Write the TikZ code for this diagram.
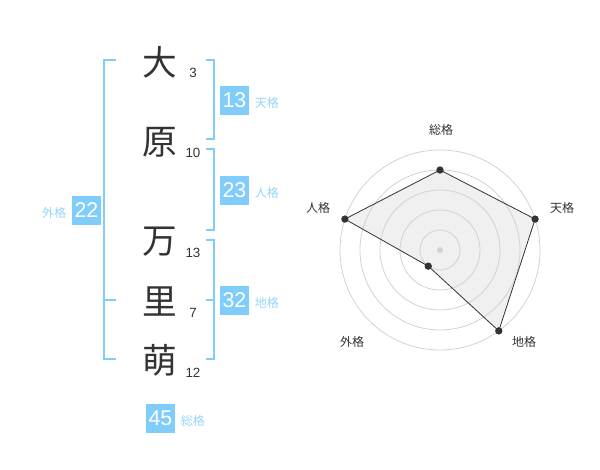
\documentclass[tikz,border=0pt]{standalone}
\usepackage{fontspec}
\setmainfont{Liberation Sans}
\newfontfamily\jpfont{Noto Sans CJK JP}
\usetikzlibrary{positioning}
\definecolor{kakublue}{RGB}{128,204,250}
\definecolor{labelblue}{RGB}{150,212,248}
\definecolor{inkgray}{RGB}{51,51,51}
\definecolor{ringgray}{RGB}{210,210,210}
\definecolor{areagray}{RGB}{240,240,240}

\begin{document}
\begin{tikzpicture}[
    x=0.75pt, y=-0.75pt,
    node distance=4pt,
    kanji/.style={font=\jpfont\fontsize{26}{26}\selectfont, text=inkgray, inner sep=0pt},
    strokes/.style={font=\fontsize{10}{10}\selectfont, text=inkgray, inner sep=0pt},
    kaku/.style={rectangle, fill=kakublue, text=white, minimum size=21.75pt, inner sep=0pt, font=\fontsize{16}{16}\selectfont},
    kakulabel/.style={font=\jpfont\fontsize{9}{9}\selectfont, text=labelblue, inner sep=0pt},
    bracket/.style={draw=kakublue, line width=1.5pt},
    ring/.style={draw=ringgray, line width=0.6pt},
    axislabel/.style={font=\jpfont\fontsize{9}{9}\selectfont, text=inkgray, inner sep=0pt},
    dot/.style={circle, fill=inkgray, inner sep=0pt, minimum size=5.5pt}
]
\useasboundingbox (0,0) rectangle (600,470);

% Name
\node[kanji] (k1) at (160,62) {大};
\node[kanji] (k2) at (160,142) {原};
\node[kanji] (k3) at (160,242) {万};
\node[kanji] (k4) at (160,302) {里};
\node[kanji] (k5) at (160,360) {萌};

% Strokes
\node[strokes] (s1) at (193,73) {3};
\node[strokes] (s2) at (193,153) {10};
\node[strokes] (s3) at (193,253) {13};
\node[strokes] (s4) at (193,313) {7};
\node[strokes] (s5) at (193,373) {12};

% Brackets
\draw[bracket] (206,60) -- (214,60) -- (214,139) -- (206,139);
\draw[bracket] (206,149) -- (214,149) -- (214,230) -- (206,230);
\draw[bracket] (206,240) -- (214,240) -- (214,359) -- (206,359);
\draw[bracket] (206,300) -- (214,300);
\draw[bracket] (116,60) -- (104,60) -- (104,359) -- (116,359);
\draw[bracket] (104,300) -- (116,300);

% Kaku boxes
\node[kaku] (ten) at (234.5,100.5) {13};
\node[kakulabel, right=of ten, yshift=-2pt] (ten_label) {天格};
\node[kaku] (jin) at (234.5,190.5) {23};
\node[kakulabel, right=of jin, yshift=-2pt] (jin_label) {人格};
\node[kaku] (chi) at (234.5,300.5) {32};
\node[kakulabel, right=of chi, yshift=-2pt] (chi_label) {地格};
\node[kaku] (gai) at (86.5,210.5) {22};
\node[kakulabel, left=of gai, yshift=-2pt] (gai_label) {外格};
\node[kaku] (sou) at (160.5,418.5) {45};
\node[kakulabel, right=of sou, yshift=-2pt] (sou_label) {総格};

% Radar chart
\begin{scope}[shift={(440,250)}]
\foreach \a/\r/\n in {90/60/r_sou, 18/75/r_ten, -54/75/r_chi, 234/15/r_gai, 162/75/r_jin}
    \coordinate (\n) at (\a:\r pt);
\fill[areagray] (r_sou) -- (r_ten) -- (r_chi) -- (r_gai) -- (r_jin) -- cycle;
\foreach \rad in {15,30,45,60,75}
    \draw[ring] (0,0) circle[radius=\rad pt];
\draw[inkgray, line width=0.6pt] (r_sou) -- (r_ten) -- (r_chi) -- (r_gai) -- (r_jin) -- cycle;
\foreach \n in {r_sou, r_ten, r_chi, r_gai, r_jin}
    \node[dot] (\n_dot) at (\n) {};
\node[circle, fill=ringgray, inner sep=0pt, minimum size=4.5pt] (hub) at (0,0) {};
\end{scope}

% Axis labels
\node[axislabel] (ax_sou) at (441,130) {総格};
\node[axislabel] (ax_ten) at (562,208) {天格};
\node[axislabel] (ax_chi) at (524,342) {地格};
\node[axislabel] (ax_gai) at (352,342) {外格};
\node[axislabel] (ax_jin) at (318,208) {人格};

\end{tikzpicture}
\end{document}
